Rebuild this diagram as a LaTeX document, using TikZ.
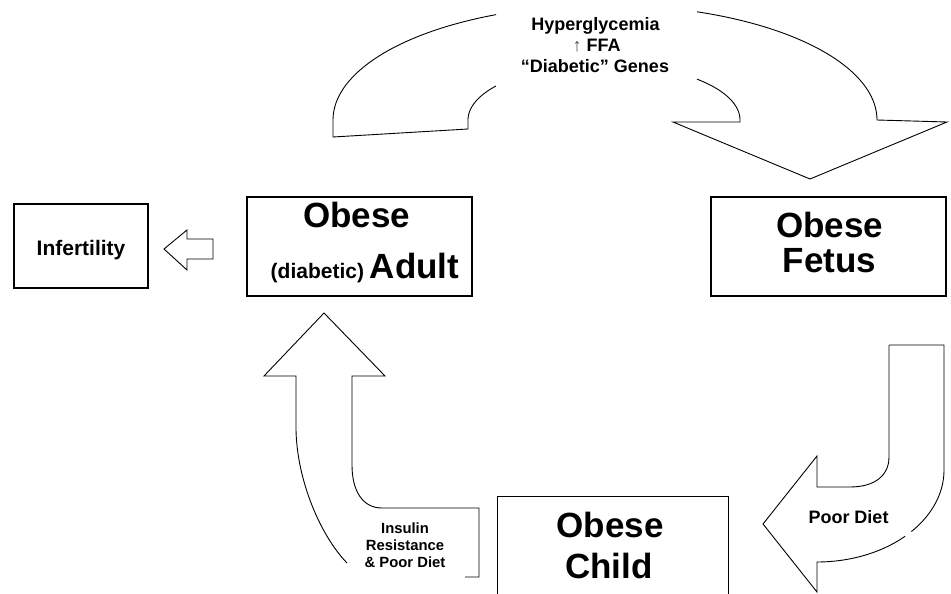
\documentclass[tikz,border=0pt]{standalone}
\usepackage{fontspec}
\setmainfont{Liberation Sans}
\begin{document}
\begin{tikzpicture}[x=1pt,y=-1pt]
\tikzset{
  blk/.style={draw=black, line width=0.9pt, line join=miter},
  box/.style={draw=black, line width=1.2pt, inner sep=0pt},
  bigtxt/.style={anchor=base, inner sep=0pt, font=\bfseries\fontsize{35}{35}\selectfont},
  midtxt/.style={anchor=base, inner sep=0pt, font=\bfseries\fontsize{18}{18}\selectfont},
  smalltxt/.style={anchor=base, inner sep=0pt, font=\bfseries\fontsize{14.8}{14.8}\selectfont}
}
\useasboundingbox (0,0) rectangle (951,594);
\clip (0,0) rectangle (951,594);

% boxes
\node[box, minimum width=134pt, minimum height=84pt] (infert) at (81,246) {};
\node[box, minimum width=225pt, minimum height=99pt] (adult) at (359.5,246.5) {};
\node[box, minimum width=235pt, minimum height=99pt] (fetus) at (828.5,246.5) {};
\node[box, minimum width=231pt, minimum height=98pt, anchor=north west] (child) at (497,496) {};

% box texts
\node[anchor=base, inner sep=0pt, font=\bfseries\fontsize{21}{21}\selectfont] (inftxt) at (81,255) {Infertility};
\node[bigtxt] (adult1) at (356.5,227) {Obese};
\node[anchor=base, inner sep=0pt, font=\bfseries] (adult2) at (365,278) {{\fontsize{21}{21}\selectfont(diabetic) }{\fontsize{35}{35}\selectfont Adult}};
\node[bigtxt] (fetus1) at (829.5,237) {Obese};
\node[bigtxt] (fetus2) at (829.5,272) {Fetus};
\node[bigtxt] (child1) at (610,537) {Obese};
\node[bigtxt] (child2) at (609,578) {Child};

% top curved arrow
\draw[blk] plot[domain=113.6:180, samples=60, variable=\t] ({605+272*cos(\t)},{120-115*sin(\t)})
  -- (333,137) -- (468,129) -- (468,120)
  -- plot[domain=180:142.6, samples=40, variable=\t] ({604+136*cos(\t)},{120-56*sin(\t)});
\draw[blk] plot[domain=70.2:0, samples=60, variable=\t] ({605+272*cos(\t)},{120-115*sin(\t)})
  -- (947,122) -- (810,179) -- (673,122) -- (740,122)
  -- plot[domain=0:46.8, samples=40, variable=\t] ({604+136*cos(\t)},{120-56*sin(\t)});
\node[midtxt] (top1) at (595.5,31) {Hyperglycemia};
\node[midtxt] (top2) at (596.5,52) {{\mdseries\color{black!70}↑} FFA};
\node[midtxt] (top3) at (595,73) {“Diabetic” Genes};

% left upward arrow
\draw[blk] (347,563) .. controls (320,535) and (297,480) .. (296,430) -- (296,376) -- (264,376)
  -- (324,313) -- (385,376) -- (352,376) -- (352,465)
  .. controls (352,490) and (362,508) .. (382,508) -- (479,508) -- (479,577) -- (465,577);
\node[smalltxt] (ins1) at (405,533) {Insulin};
\node[smalltxt] (ins2) at (405,550) {Resistance};
\node[smalltxt] (ins3) at (405,567) {\&\ Poor Diet};

% right downward arrow
\draw[blk] (889,345) -- (944,345) -- (944,470)
  -- plot[domain=0:42, samples=40, variable=\t] ({817+127*cos(\t)},{470+92*sin(\t)});
\draw[blk] plot[domain=46:90, samples=40, variable=\t] ({817+127*cos(\t)},{470+92*sin(\t)})
  -- (817,592) -- (763,524) -- (817,456) -- (817,487) -- (850,487)
  .. controls (874,487) and (889,476) .. (889,457) -- (889,345);
\node[midtxt] (poor) at (848.5,523) {Poor Diet};

% small arrow to infertility
\draw[blk] (164,249) -- (187,230) -- (187,239) -- (213,239) -- (213,259) -- (187,259) -- (187,270) -- cycle;
\end{tikzpicture}
\end{document}
